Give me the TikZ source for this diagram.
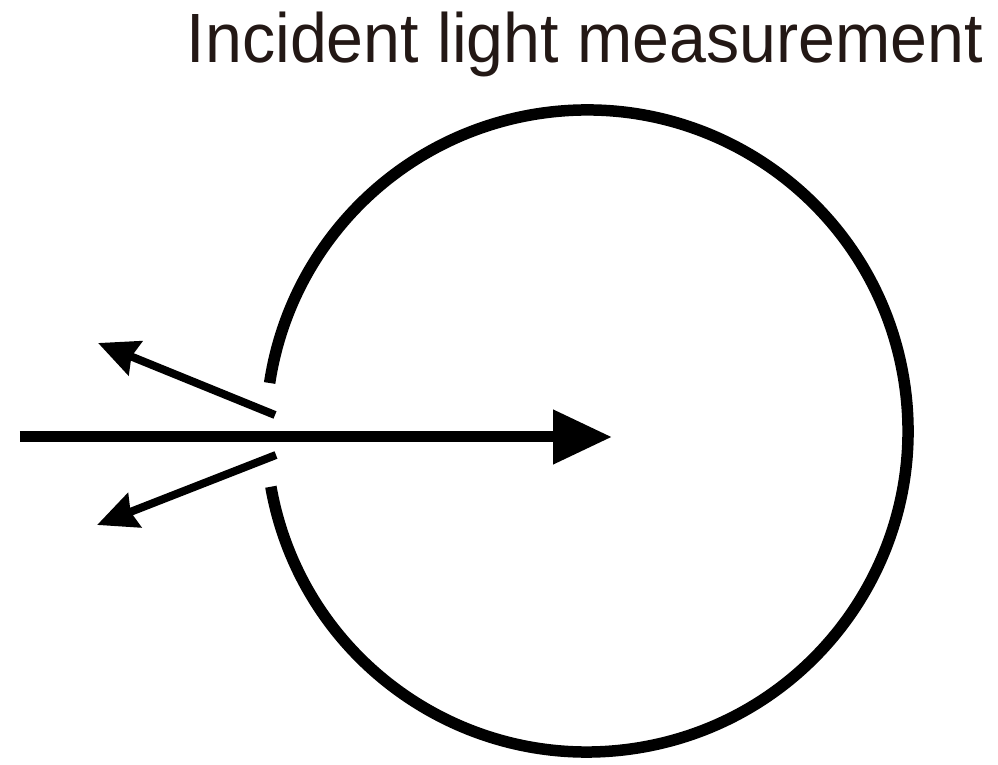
\documentclass[tikz,border=0pt]{standalone}
\usepackage{fontspec}
\setmainfont{Liberation Sans}
\usetikzlibrary{arrows.meta}
\definecolor{inkblack}{RGB}{35,24,21}
\begin{document}
\begin{tikzpicture}[every node/.style={font=\fontsize{39.7}{46}\selectfont, text=inkblack},
    rim/.style={line width=0.23cm},
    beam/.style={line width=0.22cm, -{Triangle[length=1.18cm, width=1.04cm]}},
    reflex/.style={line width=0.16cm, -{Stealth[length=0.8cm, width=0.72cm, inset=0.08cm]}}]
            \useasboundingbox (0,0) rectangle (19.96,15.3);
            % sphere with the opening on its left
            \coordinate (ctr) at (11.74,6.68);
            \draw[rim] ([shift={(190:6.42)}]ctr) arc[start angle=190, end angle=531.4, radius=6.42];
            % incoming light and the two reflections
            \coordinate (src) at (0.4,6.56);
            \coordinate (hit) at (12.24,6.56);
            \draw[beam] (src) -- (hit);
            \coordinate (upin) at (5.5,7.0);
            \coordinate (upout) at (1.96,8.44);
            \coordinate (lowin) at (5.52,6.2);
            \coordinate (lowout) at (1.94,4.8);
            \draw[reflex] (upin) -- (upout);
            \draw[reflex] (lowin) -- (lowout);
            \node[anchor=base east, inner sep=0pt, xscale=0.95] (title) at (19.66,14.04) {Incident light measurement};
        \end{tikzpicture}
\end{document}
